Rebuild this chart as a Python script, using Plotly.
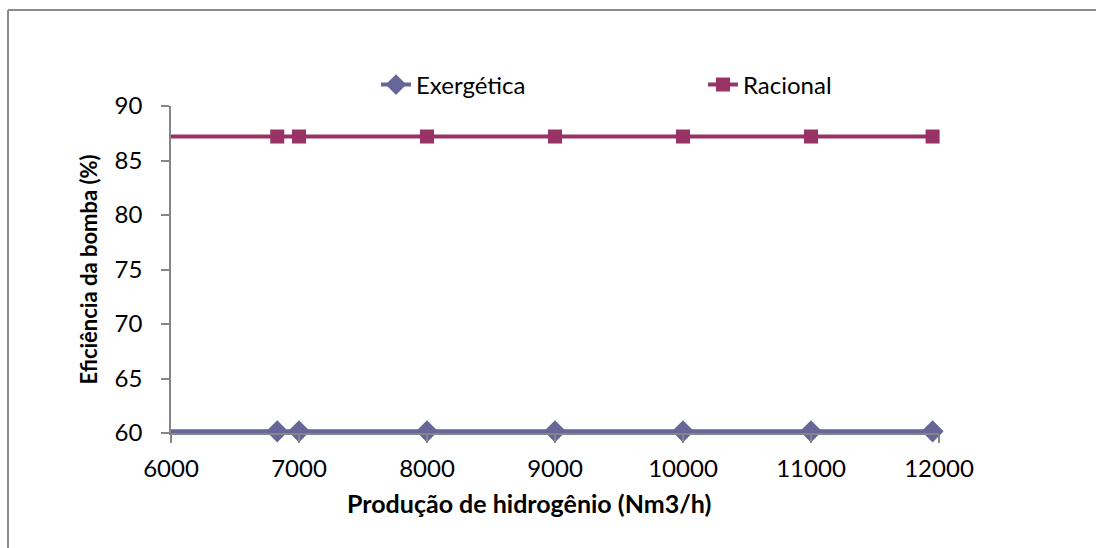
import plotly.graph_objects as go

# Hydrogen production (Nm3/h) and pump efficiency (%)
producao = [5000, 6830, 7000, 8000, 9000, 10000, 11000, 11950]
exergetica = [60.15, 60.15, 60.15, 60.15, 60.15, 60.15, 60.15, 60.15]
racional = [87.2, 87.2, 87.2, 87.2, 87.2, 87.2, 87.2, 87.2]

x_ticks = [6000, 7000, 8000, 9000, 10000, 11000, 12000]
y_ticks = [60, 65, 70, 75, 80, 85, 90]

FONT = "Lato"
AXIS_GRAY = "#868686"

fig = go.Figure()
fig.add_trace(go.Scatter(
    x=producao, y=exergetica, name="Exergética", mode="lines+markers",
    line=dict(color="#666699", width=4),
    marker=dict(symbol="diamond", size=17, color="#666699"),
    cliponaxis=False,
))
fig.add_trace(go.Scatter(
    x=producao, y=racional, name="Racional", mode="lines+markers",
    line=dict(color="#993366", width=4),
    marker=dict(symbol="square", size=14, color="#993366"),
    cliponaxis=False,
))

L, R, T, B = 171, 939, 106, 433
W, H = 1096, 548
pw, ph = R - L, B - T


def px(xp):
    return (xp - L) / pw


def py(yp):
    return (B - yp) / ph


# Chart frame (top and left edges)
frame = dict(color="#8c8c8c", width=2)
fig.add_shape(type="line", xref="paper", yref="paper",
              x0=px(8), x1=px(W + 5), y0=py(10), y1=py(10), line=frame)
fig.add_shape(type="line", xref="paper", yref="paper",
              x0=px(8), x1=px(8), y0=py(10), y1=py(H + 5), line=frame)

# Horizontal axis title, centred under the chart body
fig.add_annotation(
    text="<b>Produção de hidrogênio (Nm3/h)</b>",
    xref="paper", yref="paper", x=px(529), y=py(503),
    xanchor="center", yanchor="middle", showarrow=False,
    font=dict(family=FONT, size=25, color="black"),
)

fig.update_layout(
    width=W, height=H,
    margin=dict(l=L, r=W - R, t=T, b=H - B),
    paper_bgcolor="white", plot_bgcolor="white",
    font=dict(family=FONT, size=24, color="black"),
    showlegend=True,
    legend=dict(
        orientation="h", x=px(376), xanchor="left",
        y=py(85), yanchor="middle",
        entrywidth=282, entrywidthmode="pixels",
        font=dict(family=FONT, size=24),
        bgcolor="rgba(0,0,0,0)",
    ),
    xaxis=dict(
        range=[6000, 12000], tickvals=x_ticks, ticktext=[str(v) for v in x_ticks],
        showgrid=False, zeroline=False,
        showline=True, linecolor=AXIS_GRAY, linewidth=1.5,
        ticks="outside", ticklen=8, tickcolor=AXIS_GRAY, tickwidth=1.5,
        ticklabelstandoff=5,
        tickfont=dict(family=FONT, size=24),
    ),
    yaxis=dict(
        range=[60, 90], tickvals=y_ticks,
        showgrid=False, zeroline=False,
        showline=True, linecolor=AXIS_GRAY, linewidth=1.5,
        ticks="outside", ticklen=8, tickcolor=AXIS_GRAY, tickwidth=1.5,
        ticklabelstandoff=14,
        tickfont=dict(family=FONT, size=24),
        title=dict(text="<b>Eficiência da bomba (%)</b>",
                   font=dict(family=FONT, size=22), standoff=11),
    ),
)

fig.write_html("out.html")
